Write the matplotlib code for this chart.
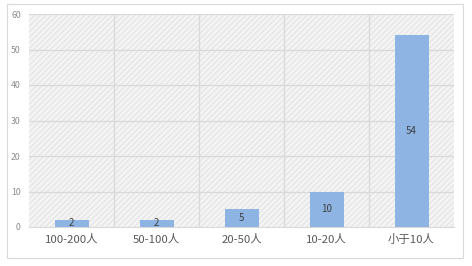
import matplotlib.pyplot as plt
from matplotlib.patches import Rectangle

plt.rcParams['font.family'] = ['Noto Sans CJK SC', 'DejaVu Sans']

# 数据
categorias = ['100-200人', '50-100人', '20-50人', '10-20人', '小于10人']
valores = [2, 2, 5, 10, 54]

fig = plt.figure(figsize=(4.72, 2.66), dpi=100)
# moldura externa
fig.patches.append(Rectangle((7/472, 8/266), 456/472, 254/266, transform=fig.transFigure,
                             fill=False, edgecolor='#d9d9d9', linewidth=0.8))

ax = fig.add_axes([29/472, 39/266, 425/472, 213/266])
ax.set_facecolor('#f4f4f4')
ax.add_patch(Rectangle((0, 0), 1, 1, transform=ax.transAxes, facecolor='none',
                       edgecolor='#e6e6e6', hatch='//////', linewidth=0, zorder=0))

x = range(len(categorias))
barras = ax.bar(x, valores, width=0.4, color='#8db4e2', zorder=3)
for b, v in zip(barras, valores):
    ax.text(b.get_x() + b.get_width() / 2, v / 2, str(v), ha='center', va='center',
            fontsize=7, color='#404040', zorder=4)

ax.set_xlim(-0.5, len(categorias) - 0.5)
ax.set_ylim(0, 60)
ax.set_yticks(range(0, 61, 10))
ax.set_xticks(x)
ax.set_xticklabels(categorias, fontsize=8.2, color='#595959')
ax.tick_params(axis='y', labelsize=6.3, labelcolor='#8c8c8c', length=0, pad=6)
ax.tick_params(axis='x', length=0, pad=5)

# grade
for yv in range(10, 61, 10):
    ax.axhline(yv, color='#d9d9d9', linewidth=0.9, zorder=1)
for xv in range(1, len(categorias)):
    ax.axvline(xv - 0.5, color='#d9d9d9', linewidth=0.9, zorder=1)
for s in ['top', 'right', 'left']:
    ax.spines[s].set_visible(False)
ax.spines['bottom'].set_color('#d9d9d9')

plt.savefig('out.png', dpi=100)
